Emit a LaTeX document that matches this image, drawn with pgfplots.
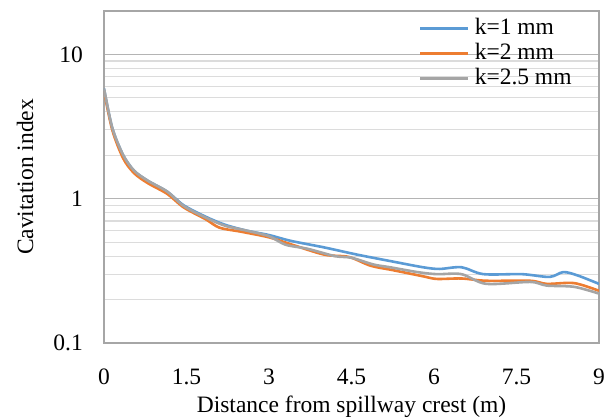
\documentclass[border=0pt]{standalone}
\usepackage{pgfplots}
\pgfplotsset{compat=1.18}
\usepackage{fontspec}
\setmainfont{Liberation Serif}
\definecolor{cblue}{HTML}{5B9BD5}
\definecolor{corange}{HTML}{ED7D31}
\definecolor{cgray}{HTML}{A5A5A5}
\definecolor{borderg}{HTML}{A6A6A6}
\definecolor{majg}{HTML}{B4B4B4}
\definecolor{ming}{HTML}{DCDCDC}
\begin{document}
\fontsize{23.5bp}{28bp}\selectfont
\begin{tikzpicture}
\begin{axis}[
  scale only axis, width=495bp, height=332bp,
  ymode=log, xmin=0, xmax=9, ymin=0.1, ymax=20,
  xtick={0,1.5,3,4.5,6,7.5,9},
  xticklabels={0,1.5,3,4.5,6,7.5,9},
  ytick={0.1,1,10},
  yticklabels={0.1,1,10},
  major tick length=0pt, minor tick length=0pt,
  ymajorgrids, yminorgrids,
  major grid style={majg, line width=1.2bp},
  minor grid style={ming, line width=1.2bp},
  axis line style={borderg, line width=1.4bp},
  font=\fontsize{23.5bp}{28bp}\selectfont,
  /pgf/number format/assume math mode=true,
  xticklabel style={anchor=base, inner sep=0pt, yshift=-41bp},
  yticklabel style={anchor=east, inner sep=0pt, xshift=-21bp},
  every axis x label/.style={at={(axis description cs:0.5,-0.2108)}, anchor=base},
  every axis y label/.style={at={(axis description cs:-0.1434,0.5)}, rotate=90, anchor=base},
  xlabel={Distance from spillway crest (m)},
  ylabel={Cavitation index},
  legend style={draw=none, fill=none, at={(axis description cs:0.945,0.985)}, anchor=north east,
    row sep=0pt, column sep=5bp, inner sep=0pt,
    nodes={inner sep=0pt, text height=18bp, text depth=7bp, anchor=west}},
  legend cell align=left,
  legend image code/.code={\draw[#1, line width=3bp] (0bp,0bp) -- (48bp,0bp);},
  every axis plot/.append style={line width=2.6bp, smooth, tension=0.5},
]
\addplot[cblue] coordinates {
(0,5.8) (0.15,3.1) (0.35,2.0) (0.55,1.56) (0.8,1.33) (1.15,1.12) (1.45,0.9) (1.85,0.75)
(2.2,0.66) (2.6,0.6) (3.0,0.56) (3.4,0.51) (4.0,0.46) (4.6,0.41) (5.2,0.37) (5.8,0.335)
(6.1,0.326) (6.5,0.335) (6.9,0.30) (7.6,0.30) (8.1,0.287) (8.35,0.31) (8.6,0.295) (9.0,0.257)};
\addlegendentry{k=1 mm}
\addplot[corange] coordinates {
(0,5.6) (0.15,3.0) (0.35,1.9) (0.55,1.5) (0.8,1.28) (1.15,1.08) (1.45,0.87) (1.85,0.72)
(2.1,0.63) (2.5,0.59) (3.0,0.54) (3.35,0.49) (4.0,0.41) (4.45,0.395) (4.85,0.343) (5.25,0.32)
(5.8,0.29) (6.05,0.278) (6.5,0.28) (6.95,0.27) (7.75,0.27) (8.05,0.257) (8.55,0.26) (9.0,0.23)};
\addlegendentry{k=2 mm}
\addplot[cgray] coordinates {
(0,5.8) (0.15,3.1) (0.35,2.0) (0.55,1.56) (0.8,1.33) (1.15,1.12) (1.45,0.89) (1.85,0.74)
(2.2,0.65) (2.6,0.6) (3.0,0.55) (3.3,0.48) (3.7,0.45) (4.2,0.4) (4.5,0.39) (4.9,0.35)
(5.2,0.335) (5.7,0.31) (6.05,0.30) (6.5,0.30) (6.95,0.257) (7.75,0.265) (8.05,0.25) (8.55,0.245) (9.0,0.22)};
\addlegendentry{k=2.5 mm}
\end{axis}
\pgfresetboundingbox
\path (current axis.south west) ++(-104bp,-76bp) rectangle ++(611bp,419bp);
\end{tikzpicture}
\end{document}
